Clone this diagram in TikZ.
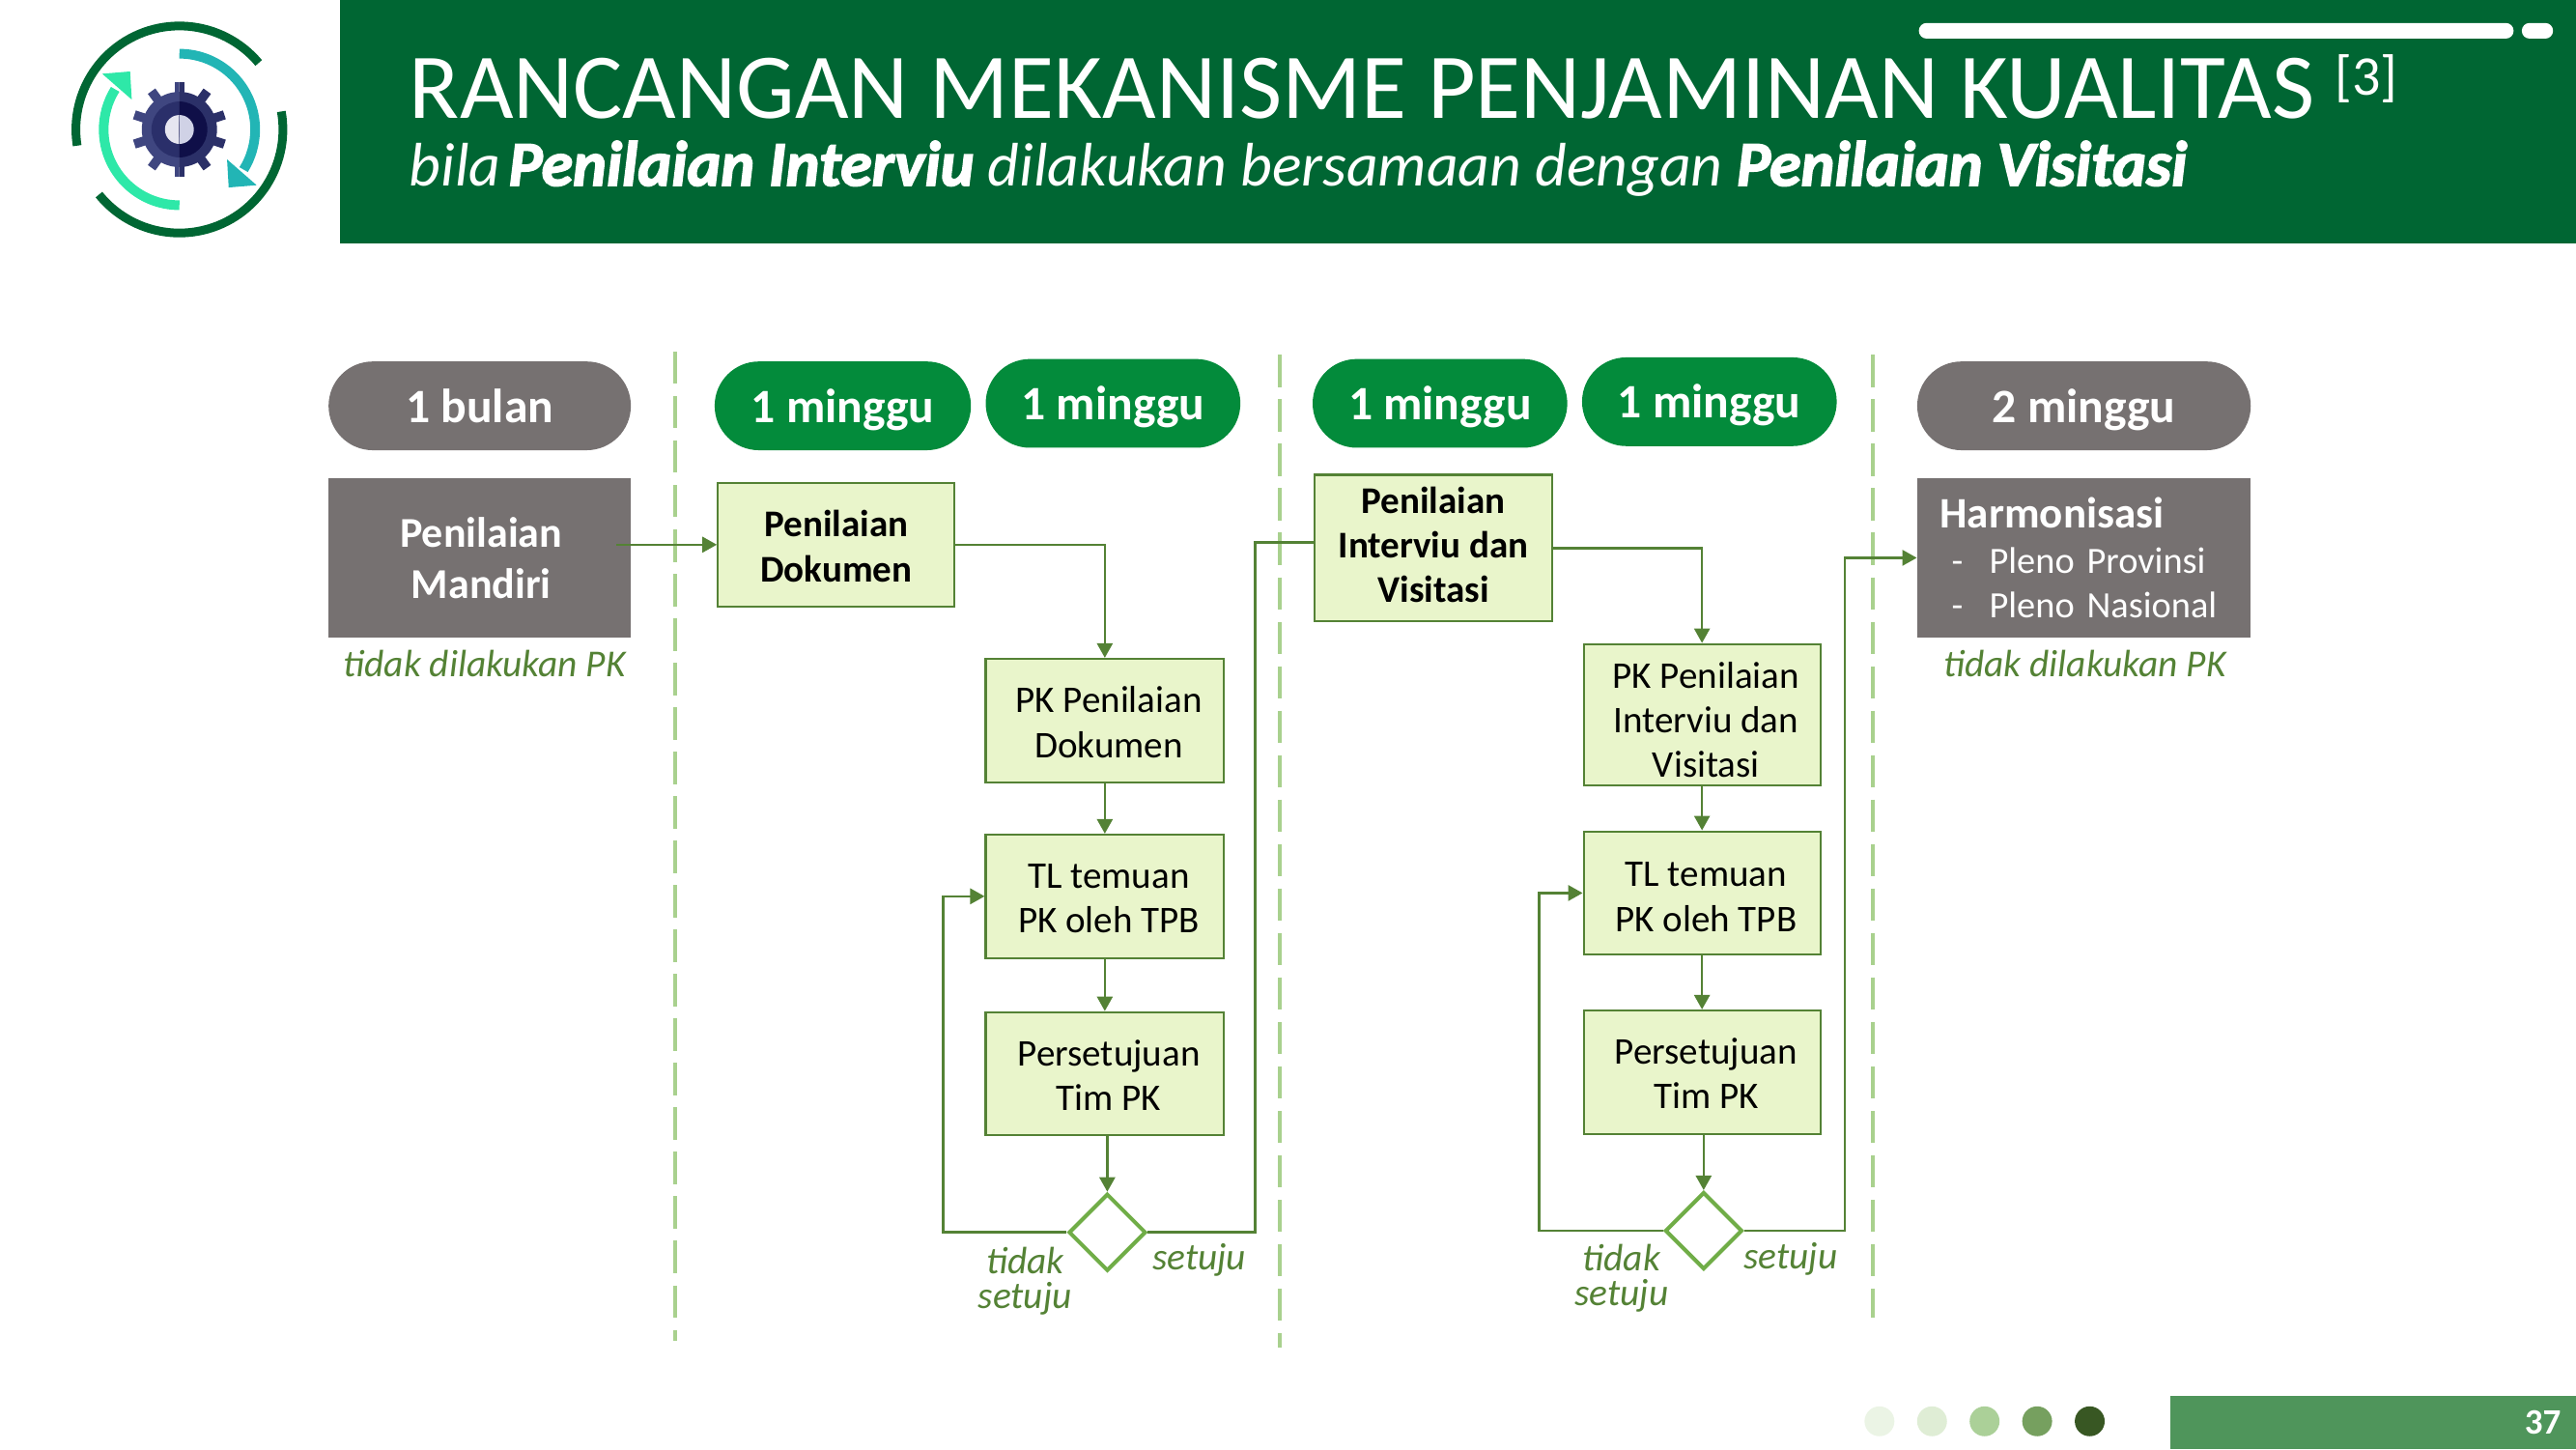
\documentclass[tikz,border=0pt]{standalone}
\usepackage{fontspec}
\setmainfont{Carlito}
\newfontface\heavyital[FakeBold=2.4]{Carlito Bold Italic}
\usepackage{xcolor}
\usetikzlibrary{arrows.meta,shapes.geometric}
\definecolor{headgreen}{HTML}{006633}
\definecolor{pillgreen}{HTML}{038B3B}
\definecolor{flowgreen}{HTML}{548235}
\definecolor{diagreen}{HTML}{70AD47}
\definecolor{dashgreen}{HTML}{A9D18E}
\definecolor{boxfill}{HTML}{E9F5CB}
\definecolor{pillgray}{HTML}{767171}
\definecolor{pagegreen}{HTML}{4F955B}
\definecolor{logoteal}{HTML}{22B5B5}
\definecolor{logomint}{HTML}{2EE8A8}
\newcommand{\nudge}{\hspace*{4.2pt}}
\newcommand{\dropby}[1]{\rule{0pt}{\dimexpr13.7pt+#1*2\relax}}
\tikzset{
  timepill/.style 2 args={shape=rectangle,rounded corners=22.9pt,fill=#1,text=white,font=\fontsize{24.8}{27}\selectfont\bfseries,minimum width=#2*0.85pt,minimum height=54*0.85pt,inner sep=0pt,text height=17pt,text depth=0pt},
  flowbox/.style 2 args={draw=flowgreen,line width=1.1pt,fill=boxfill,align=center,font=\fontsize{19.5}{23.2}\selectfont,minimum width=#1*0.85pt,minimum height=#2*0.85pt,inner sep=0pt},
  boldbox/.style={font=\fontsize{19.5}{23.2}\selectfont\bfseries},
  graybox/.style={fill=pillgray,text=white,minimum width=184*0.85pt,minimum height=97*0.85pt,inner sep=0pt,font=\fontsize{22}{26.5}\selectfont\bfseries,align=center},
  decision/.style={diamond,draw=diagreen,fill=white,line width=2pt,minimum width=47*0.85pt,minimum height=47*0.85pt,inner sep=0pt},
  flowline/.style={draw=flowgreen,line width=1.3pt},
  flowarrow/.style={flowline,-{Triangle[length=7.5pt,width=8pt]}},
  notelabel/.style={text=flowgreen,font=\fontsize{19.7}{18}\selectfont\itshape,align=center},
  phaseline/.style={dashgreen,line width=2pt,dash pattern=on 16.7pt off 6.3pt}
}
\begin{document}
\begin{tikzpicture}[x=0.85pt,y=-0.85pt]
  \useasboundingbox (0,0) rectangle (1568,882);
  \fill[headgreen] (207,0) rectangle (1568,148);
  \fill[white,rounded corners=4pt] (1168,14) rectangle (1530,23.5);
  \fill[white,rounded corners=4pt] (1535,14) rectangle (1554,23.5);
  \node[anchor=base west,text=white,inner sep=0pt,font=\fontsize{48}{50}\selectfont] (title) at (249,72) {RANCANGAN MEKANISME PENJAMINAN KUALITAS \raisebox{12pt}{\fontsize{29}{30}\selectfont[3]}};
  \node[anchor=base west,text=white,inner sep=0pt,font=\fontsize{31.8}{34}\selectfont\itshape] (subtitle) at (249,113) {bila\hspace{-3.2pt} {\fontsize{33}{34}\heavyital Penilaian Interviu} dilakukan bersamaan dengan {\fontsize{33}{34}\heavyital Penilaian Visitasi}};
  % logo
  \begin{scope}[shift={(109.2,78.8)},yscale=-1]
    \draw[headgreen,line width=4.5pt] (40:63) arc[start angle=40,end angle=189,radius=63];
    \draw[headgreen,line width=4.5pt] (10:63) arc[start angle=10,end angle=-141,radius=63];
    \draw[logoteal,line width=5pt] (90:46.1) arc[start angle=90,end angle=-32,radius=46.1];
    \fill[logoteal] (29,-18.2) -- (30,-35.3) -- (47,-33.9) -- cycle;
    \draw[logomint,line width=5pt] (270:46.1) arc[start angle=270,end angle=148,radius=46.1];
    \fill[logomint] (-29,18.2) -- (-30,35.3) -- (-47,33.9) -- cycle;
    \foreach \xa/\xb/\body/\core/\hub in {-40/0/3F4680/2A2F6A/E6E6F0,0/40/2B3068/0F0F48/D0D2E6}{
      \begin{scope}
        \clip (\xa,-40) rectangle (\xb,40);
        \definecolor{cbody}{HTML}{\body}\definecolor{ccore}{HTML}{\core}\definecolor{chub}{HTML}{\hub}
        \foreach \a in {18,54,...,342}{\fill[cbody,rotate=\a] (0,-2.8) rectangle (28.8,2.8);}
        \fill[cbody] (0,0) circle (22.9);
        \fill[ccore] (0,0) circle (17);
        \fill[chub] (0,0) circle (8.8);
      \end{scope}
    }
  \end{scope}
  % phase separators
  \foreach \x/\ya/\yb in {411/214/816,779/216/820,1140/216/802}{\draw[phaseline] (\x,\ya) -- (\x,\yb);}
  % time pills
  \node[timepill={pillgray}{184}] (pilla) at (292,247) {1 bulan};
  \node[timepill={pillgreen}{156}] (pillb) at (513,247) {1 minggu};
  \node[timepill={pillgreen}{155}] (pillc) at (677.5,245.5) {1 minggu};
  \node[timepill={pillgreen}{155}] (pilld) at (876.5,245.5) {1 minggu};
  \node[timepill={pillgreen}{155}] (pille) at (1040.5,244.5) {1 minggu};
  \node[timepill={pillgray}{203}] (pillf) at (1268.5,247) {2 minggu};
  % left and right gray boxes
  \node[graybox] (mandiri) at (292,339.5) {\hspace*{1.6pt}Penilaian\\\hspace*{1.6pt}Mandiri};
  \node[graybox,minimum width=203*0.85pt,align=left,inner xsep=11.8pt,text width=148.95pt,font=\fontsize{19.2}{23.2}\selectfont] (harmon) at (1268.5,339.5) {\textbf{\fontsize{22.5}{23.2}\selectfont Harmonisasi}\\\makebox[25.5pt][l]{\hspace*{6pt}-}Pleno Provinsi\\\makebox[25.5pt][l]{\hspace*{6pt}-}Pleno Nasional};
  \node[notelabel] (notea) at (295,404) {tidak dilakukan PK};
  \node[notelabel] (noteb) at (1269,404) {tidak dilakukan PK};
  % first review column
  \node[flowbox={144}{75},boldbox] (doka) at (509,331.5) {\dropby{0.8pt}Penilaian\\Dokumen};
  \node[flowbox={145}{75}] (pka) at (672.5,438.5) {\dropby{0.8pt}\nudge PK Penilaian\\\nudge Dokumen};
  \node[flowbox={145}{75}] (tla) at (672.5,545.5) {\dropby{0.6pt}\nudge TL temuan\\\nudge PK oleh TPB};
  \node[flowbox={145}{75}] (seta) at (672.5,653.5) {\dropby{0.6pt}\nudge Persetujuan\\\nudge Tim PK};
  \node[decision] (diaa) at (674,750) {};
  \coordinate (loopa) at (574,750);
  \coordinate (upa) at (764,750);
  \node[notelabel] (noa) at (624,779.5) {tidak\\setuju};
  \node[notelabel] (yesa) at (730,767) {setuju};
  % second review column
  \node[flowbox={145}{89},boldbox] (dokb) at (872.5,333.5) {Penilaian\\Interviu dan\\Visitasi\rule[-3.4pt]{0pt}{0pt}};
  \node[flowbox={144}{86}] (pkb) at (1036,435) {\dropby{2.5pt}\nudge PK Penilaian\\\nudge Interviu dan\\\nudge Visitasi};
  \node[flowbox={144}{75}] (tlb) at (1036,543.5) {\dropby{1.5pt}\nudge TL temuan\\\nudge PK oleh TPB};
  \node[flowbox={144}{75}] (setb) at (1036,652.5) {\dropby{0.6pt}\nudge Persetujuan\\\nudge Tim PK};
  \node[decision] (diab) at (1037,749) {};
  \coordinate (loopb) at (937,749);
  \coordinate (upb) at (1123,749);
  \coordinate (entb) at (800,330);
  \node[notelabel] (nob) at (987,778) {tidak\\setuju};
  \node[notelabel] (yesb) at (1090,766) {setuju};
  % connectors
  \draw[flowarrow] ([xshift=-7.6pt]mandiri.east |- doka.west) -- (doka.west);
  \draw[flowarrow] (doka.east) -| (pka.north);
  \draw[flowarrow] (pka.south) -- (tla.north);
  \draw[flowarrow] (tla.south) -- (seta.north);
  \draw[flowarrow] (seta.south -| diaa.north) -- (diaa.north);
  \draw[flowarrow] (diaa.west) -- (loopa) |- (tla.west);
  \draw[flowline] (diaa.east) -- (upa) |- (entb);
  \draw[flowarrow] (dokb.east) -| (pkb.north);
  \draw[flowarrow] (pkb.south) -- (tlb.north);
  \draw[flowarrow] (tlb.south) -- (setb.north);
  \draw[flowarrow] (setb.south -| diab.north) -- (diab.north);
  \draw[flowarrow] (diab.west) -- (loopb) |- (tlb.west);
  \draw[flowarrow] (diab.east) -- (upb) |- (harmon.west);
  % footer
  \foreach \c [count=\i from 0] in {EBF4E5,DFEDD5,ABD098,76A05F,385723}{
    \definecolor{dotc}{HTML}{\c}
    \fill[dotc] (1144+32*\i,865) circle (9.1);
  }
  \fill[pagegreen] (1321,849.5) rectangle (1568,882);
  \node[anchor=base east,text=white,inner sep=0pt,font=\fontsize{18.5}{20}\selectfont\bfseries] (pagenum) at (1559,873) {37};
\end{tikzpicture}
\end{document}
